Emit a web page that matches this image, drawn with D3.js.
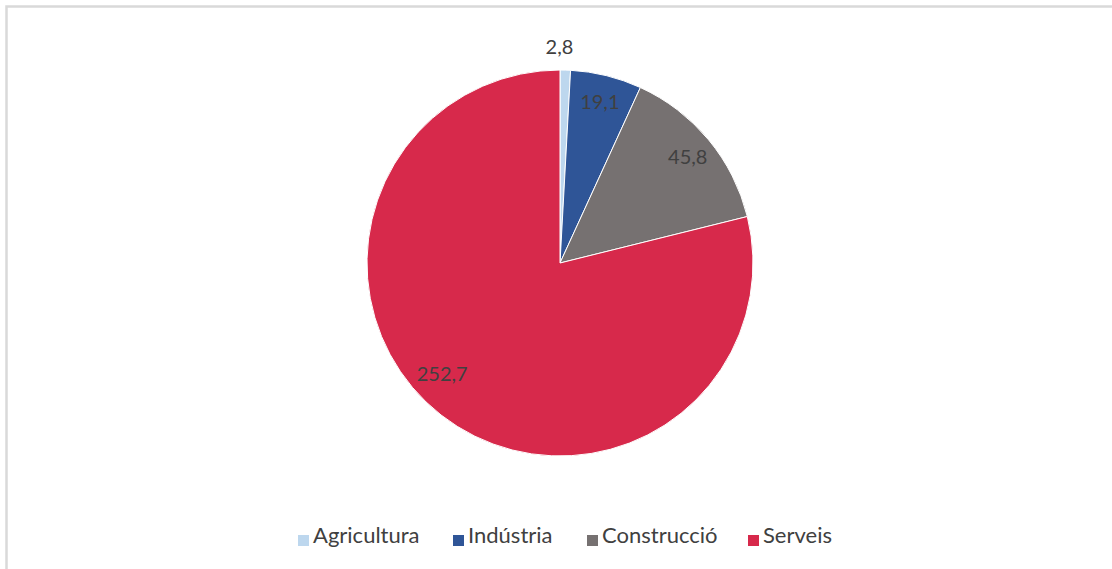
<!DOCTYPE html>
<html>
<head>
<meta charset="utf-8">
<script src="https://cdn.jsdelivr.net/npm/d3@7"></script>
<style>
  body { margin: 0; background: #fff; }
  svg { display: block; }
</style>
</head>
<body>
<div id="chart"></div>
<script>
// sectors and their values
const categories = ["Agricultura", "Indústria", "Construcció", "Serveis"];
const values = [2.8, 19.1, 45.8, 252.7];
const colours = ["#bdd7ee", "#2f5597", "#767171", "#d7294b"];

const fullWidth = 1112;
const fullHeight = 569;
const cx = 560, cy = 263;
const radius = 193;

const fmt = v => d3.format(".1f")(v).replace(".", ",");

const svg = d3.select("#chart").append("svg")
    .attr("width", fullWidth)
    .attr("height", fullHeight);

// chart frame (only top and left visible, picture is cropped)
svg.append("rect")
    .attr("x", 6.5)
    .attr("y", 6.5)
    .attr("width", fullWidth + 20)
    .attr("height", fullHeight + 20)
    .style("fill", "none")
    .style("stroke", "#d9d9d9")
    .style("stroke-width", 2.5);

const data = categories.map((c, i) => ({ name: c, value: values[i], colour: colours[i] }));

const pie = d3.pie().value(d => d.value).sort(null);
const arcs = pie(data);

const arc = d3.arc().innerRadius(0).outerRadius(radius);

const g = svg.append("g")
    .attr("transform", `translate(${cx},${cy})`);

g.selectAll("path.slice")
    .data(arcs)
    .enter().append("path")
    .attr("class", "slice")
    .attr("d", arc)
    .style("fill", d => d.data.colour)
    .style("stroke", "#fff")
    .style("stroke-width", 1);

// label spot: small slices outside, others inside; Excel's best fit
// pushes the big slice's label a bit further round
const labelPos = d => {
    const small = (d.endAngle - d.startAngle) < 0.2;
    const big = (d.endAngle - d.startAngle) > Math.PI;
    const r = small ? 216 : (big ? 162 : 166);
    const a = (d.startAngle + d.endAngle) / 2 + (big ? 0.15 : 0) - (small ? 0.03 : 0);
    return [r * Math.sin(a), -r * Math.cos(a)];
};

g.selectAll("text.value")
    .data(arcs)
    .enter().append("text")
    .attr("class", "value")
    .attr("transform", d => `translate(${labelPos(d)})`)
    .attr("text-anchor", "middle")
    .attr("dy", "0.35em")
    .style("font-family", "Lato, 'Open Sans', sans-serif")
    .style("font-size", "20px")
    .style("fill", "#404040")
    .text(d => fmt(d.data.value));

// legend
const legendX = [298, 453, 587, 748];
const legend = svg.append("g").attr("class", "legend");

const items = legend.selectAll("g")
    .data(data)
    .enter().append("g")
    .attr("transform", (d, i) => `translate(${legendX[i]},543)`);

items.append("rect")
    .attr("x", 0)
    .attr("y", -8)
    .attr("width", 11)
    .attr("height", 11)
    .style("fill", d => d.colour);

items.append("text")
    .attr("x", 15)
    .attr("y", 0)
    .style("font-family", "Lato, 'Open Sans', sans-serif")
    .style("font-size", "22px")
    .style("fill", "#404040")
    .text(d => d.name);
</script>
</body>
</html>
